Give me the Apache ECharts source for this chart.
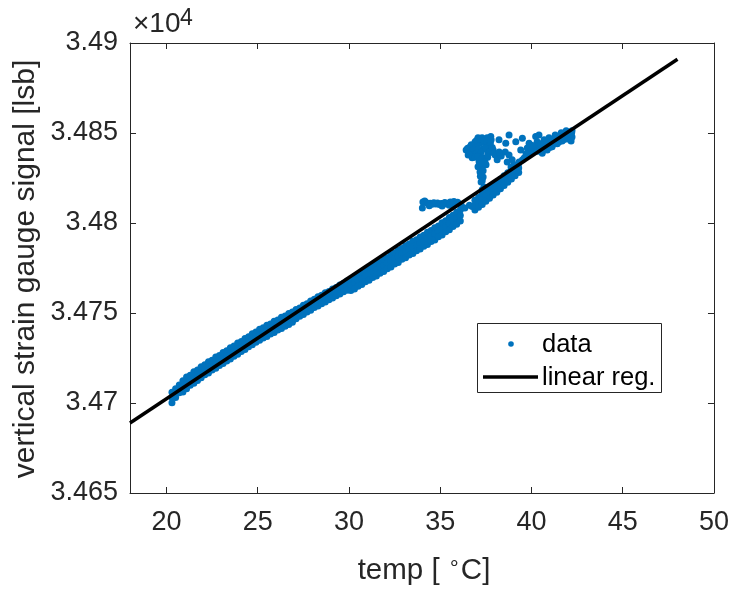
<!DOCTYPE html>
<html><head><meta charset="utf-8">
<script src="https://cdn.jsdelivr.net/npm/echarts@6/dist/echarts.min.js"></script>
<style>html,body{margin:0;padding:0;background:#fff}#c{width:732px;height:589px}</style>
</head><body><div id="c"></div>
<script>
// ---- data (temp in degC, signal in lsb) ----
const xTicks = [20, 25, 30, 35, 40, 45, 50];
const yTicks = [34650, 34700, 34750, 34800, 34850, 34900];

const bandTemp = [20.3,20.5,20.7,20.9,21.1,21.3,21.5,21.7,21.9,22.1,
  22.3,22.5,22.7,22.9,23.1,23.3,23.5,23.7,23.9,24.1,
  24.3,24.5,24.7,24.9,25.1,25.3,25.5,25.7,25.9,26.1,
  26.3,26.5,26.7,26.9,27.1,27.3,27.5,27.7,27.9,28.1,
  28.3,28.5,28.7,28.9,29.1,29.3,29.5,29.7,29.9,30.1,
  30.3,30.5,30.7,30.9,31.1,31.3,31.5,31.7,31.9,32.1,
  32.3,32.5,32.7,32.9,33.1,33.3,33.5,33.7,33.9,34.1,
  34.3,34.5,34.7,34.9,35.1,35.3,35.5,35.7,35.9,36.1,
  36.9,37.1,37.3,37.5,37.7,37.9,38.1,38.3,38.5,38.7,38.9,39.1,39.3];
const bandUpper = [34706.0,34707.9,34710.0,34712.3,34714.4,34715.4,34717.3,34718.4,34720.2,34721.2,
  34722.9,34723.8,34725.5,34726.4,34728.1,34729.0,34730.7,34731.6,34733.3,34734.2,
  34735.9,34736.8,34738.5,34739.4,34741.0,34741.8,34743.2,34743.9,34745.4,34746.1,
  34747.6,34748.3,34749.7,34750.5,34751.9,34752.8,34754.3,34755.2,34756.7,34757.6,
  34759.0,34759.8,34761.2,34762.0,34763.4,34764.2,34765.6,34766.4,34767.8,34768.6,
  34770.1,34771.0,34772.5,34773.4,34774.9,34775.8,34777.3,34778.2,34779.7,34780.7,
  34782.3,34783.3,34784.9,34785.9,34787.4,34788.3,34789.8,34790.7,34792.2,34793.2,
  34794.8,34795.8,34797.4,34798.4,34800.1,34801.3,34803.1,34804.3,34806.0,34807.2,
  34812.6,34814.1,34815.9,34817.5,34819.3,34820.9,34822.7,34824.3,34826.2,34827.9,34829.8,34831.4,34833.0];
const bandMiddle = [34703.0,34705.5,34707.9,34709.2,34711.2,34712.6,34714.2,34715.5,34717.1,34718.5,
  34719.8,34721.1,34722.4,34723.6,34725.0,34726.2,34727.6,34728.8,34730.2,34731.4,
  34732.8,34734.0,34735.4,34736.6,34737.9,34739.0,34740.1,34741.1,34742.3,34743.3,
  34744.5,34745.5,34746.7,34747.7,34749.4,34750.5,34751.7,34752.9,34754.1,34755.3,
  34756.5,34757.5,34758.7,34759.7,34760.9,34761.9,34763.1,34764.1,34765.3,34765.6,
  34766.8,34768.0,34769.2,34770.4,34771.6,34772.8,34774.0,34775.2,34776.4,34777.7,
  34778.9,34780.3,34781.5,34782.9,34784.1,34785.3,34786.5,34787.7,34788.9,34790.2,
  34791.4,34792.8,34794.0,34795.4,34796.7,34798.2,34799.7,34801.2,34802.7,34804.2,
  34809.9,34811.4,34813.1,34814.8,34816.5,34818.2,34819.9,34821.7,34823.5,34825.3,34827.1,34828.8,34830.5];
const bandLower = [34700.1,34703.0,34705.7,34706.1,34707.9,34709.8,34711.0,34712.5,34714.0,34715.7,
  34716.6,34718.3,34719.3,34720.8,34721.9,34723.4,34724.5,34726.0,34727.1,34728.6,
  34729.7,34731.2,34732.3,34733.8,34734.8,34736.1,34737.0,34738.3,34739.2,34740.5,
  34741.4,34742.7,34743.6,34744.9,34746.8,34748.2,34749.1,34750.6,34751.5,34753.0,
  34753.9,34755.2,34756.1,34757.4,34758.3,34759.6,34760.5,34761.8,34762.7,34762.5,
  34763.4,34764.9,34765.8,34767.3,34768.2,34769.7,34770.6,34772.1,34773.0,34774.6,
  34775.5,34777.2,34778.1,34779.8,34780.7,34782.2,34783.1,34784.6,34785.5,34787.1,
  34788.0,34789.7,34790.6,34792.3,34793.3,34795.1,34796.3,34798.1,34799.3,34801.1,
  34807.2,34808.7,34810.3,34812.1,34813.7,34815.5,34817.1,34819.0,34820.8,34822.6,34824.4,34826.2,34828.0];

const stepTemp = [36.35,36.6,36.75,
  34.02,34.05,34.15,34.25,34.35,34.45,34.55,34.65,34.75,34.85,34.95,35.05,35.15,35.25,35.35,35.45,35.55,35.65,35.75,35.85,35.95,36.05,36.15,
  34.4,35.1,35.5];
const stepSignal = [34808.4,34809.8,34809.2,
  34808.3,34811.6,34812.2,34811.3,34810.9,34811.0,34810.4,34811.2,34810.6,34811.1,34810.3,34810.9,34810.8,34811.4,34810.5,34811.0,34811.6,34810.7,34811.9,34810.9,34811.5,34810.6,34809.8,
  34809.6,34809.5,34809.8];

const clusterTemp = [36.42,36.53,36.64,36.80,36.91,37.02,37.07,37.18,37.29,37.35,37.46,37.57,37.62,37.68,37.79,37.90,38.01,36.75,37.13,37.46,
  36.5,36.6,36.7,36.85,36.95,37.0,37.1,37.2,37.25,37.4,37.5,37.55,37.7,37.75,37.85,37.95,36.9,37.05,37.3,37.6,
  37.13,37.29,37.18,37.35,37.24,37.40,37.51,37.07,37.2,37.3,37.15,37.35,37.45,37.3,
  38.12,38.34,38.56,38.77,38.94,39.05,39.16,38.88,38.67,38.23,
  37.77,38.77,38.22,38.59,39.14,39.50,39.87,39.41,39.77,40.23,40.41,
  40.14,40.42,40.69,40.96,41.24,41.51,41.78,42.06,42.22,40.59,40.86,41.13,41.41,41.68,41.96,42.22,42.17,40.96,40.69,41.30,41.63,41.90,40.31,39.87,39.60,39.32,
  40.2,40.35,40.5,40.8,41.0,41.05,41.2,41.35,41.5,41.6,41.75,41.85,42.0,42.1,42.2,40.05,39.95,39.7,39.5];
const clusterSignal = [34840.6,34837.8,34842.3,34839.5,34845.1,34842.3,34847.3,34844.5,34847.3,34841.2,34844.5,34847.3,34838.9,34842.8,34846.2,34840.6,34837.8,34836.2,34838.4,34836.2,
  34841.5,34839.0,34843.5,34841.0,34838.5,34846.0,34841.0,34846.5,34839.5,34846.0,34841.5,34845.5,34839.5,34844.5,34842.0,34838.8,34836.5,34837.0,34836.0,34836.5,
  34834.0,34831.2,34828.4,34825.6,34822.8,34820.0,34832.3,34831.2,34826.0,34823.5,34833.0,34829.0,34834.0,34818.5,
  34835.1,34837.2,34839.5,34837.8,34835.1,34832.3,34829.5,34831.1,34833.9,34839.5,
  34848.0,34848.9,34846.2,34844.3,34845.2,34847.1,34844.3,34840.6,34841.6,34848.0,34848.9,
  34840.6,34841.7,34843.4,34844.5,34846.2,34847.3,34848.4,34850.1,34851.2,34838.8,34840.6,34842.3,34844.0,34845.6,34846.7,34847.8,34845.6,34847.3,34846.2,34848.9,34850.1,34851.2,34845.1,34837.8,34836.1,34833.9,
  34842.6,34839.9,34844.0,34842.5,34841.9,34845.5,34843.7,34847.0,34845.0,34848.4,34846.3,34849.3,34848.5,34849.2,34850.0,34843.0,34840.0,34838.5,34835.0];

const regTemp = [18, 48];
const regSignal = [34688.9, 34891.0];

// ---- build ----
const FONT = '"Liberation Sans", Arial, Helvetica, sans-serif';
const INK = '#262626';
const pts = [];
bandTemp.forEach((t, i) => {
  pts.push([t, bandUpper[i]]); pts.push([t, bandMiddle[i]]); pts.push([t, bandLower[i]]);
});
stepTemp.forEach((t, i) => pts.push([t, stepSignal[i]]));
clusterTemp.forEach((t, i) => pts.push([t, clusterSignal[i]]));
const regLine = regTemp.map((t, i) => [t, regSignal[i]]);

const axLine = { show: true, onZero: false, lineStyle: { color: INK, width: 1 } };
const fmtY = v => (v / 1e4).toFixed(4).replace(/0+$/, '').replace(/\.$/, '');

const chart = echarts.init(document.getElementById('c'), null, { renderer: 'canvas' });
chart.setOption({
  animation: false,
  backgroundColor: '#fff',
  grid: { left: 130, top: 43, right: 17, bottom: 96, containLabel: false },
  xAxis: [
    { type: 'value', min: 18, max: 50, position: 'bottom', axisLine: axLine,
      axisTick: { show: true, inside: true, length: 6, customValues: xTicks, lineStyle: { color: INK } },
      axisLabel: { customValues: xTicks, color: INK, fontSize: 27, fontFamily: FONT, margin: 16 },
      splitLine: { show: false } },
    { type: 'value', min: 18, max: 50, position: 'top', axisLine: axLine,
      axisTick: { show: true, inside: true, length: 6, customValues: xTicks, lineStyle: { color: INK } },
      axisLabel: { show: false }, splitLine: { show: false } }
  ],
  yAxis: [
    { type: 'value', min: yTicks[0], max: yTicks[yTicks.length - 1], interval: 50, position: 'left', axisLine: axLine,
      axisTick: { show: true, inside: true, length: 6, lineStyle: { color: INK } },
      axisLabel: { formatter: fmtY, color: INK, fontSize: 27, fontFamily: FONT, margin: 12 },
      splitLine: { show: false } },
    { type: 'value', min: yTicks[0], max: yTicks[yTicks.length - 1], interval: 50, position: 'right', axisLine: axLine,
      axisTick: { show: true, inside: true, length: 6, lineStyle: { color: INK } },
      axisLabel: { show: false }, splitLine: { show: false } }
  ],
  series: [
    { name: 'data', type: 'scatter', xAxisIndex: 0, yAxisIndex: 0, data: pts, symbolSize: 7,
      itemStyle: { color: '#0072BD', opacity: 1 }, emphasis: { disabled: true } },
    { name: 'linear reg.', type: 'line', xAxisIndex: 0, yAxisIndex: 0, data: regLine, symbol: 'none',
      lineStyle: { color: '#000', width: 3.5 }, z: 5 }
  ],
  graphic: [
    { type: 'text', x: 133, y: 38, style: { text: '×10', font: '28px ' + FONT, fill: INK, textVerticalAlign: 'bottom' } },
    { type: 'text', x: 180, y: 30, style: { text: '4', font: '23px ' + FONT, fill: INK, textVerticalAlign: 'bottom' } },
    { type: 'text', x: 424, y: 571, style: { text: '{a|temp [ }{s|∘}{a|C]}', fill: INK, textAlign: 'center', textVerticalAlign: 'middle',
        rich: { a: { font: '29.5px ' + FONT, fill: INK }, s: { font: '20px ' + FONT, fill: INK, padding: [0, 0, 14, 0] } } } },
    { type: 'text', x: 26, y: 269, rotation: Math.PI / 2,
      style: { text: 'vertical strain gauge signal [lsb]', font: '30px ' + FONT, fill: INK, textAlign: 'center', textVerticalAlign: 'middle' } },
    { type: 'rect', shape: { x: 477.5, y: 323.5, width: 184, height: 69 }, style: { fill: '#fff', stroke: INK, lineWidth: 1 }, z: 10 },
    { type: 'circle', shape: { cx: 511, cy: 344, r: 2.8 }, style: { fill: '#0072BD' }, z: 11 },
    { type: 'text', x: 542, y: 345, style: { text: 'data', font: '25.5px ' + FONT, fill: '#000', textVerticalAlign: 'middle' }, z: 11 },
    { type: 'line', shape: { x1: 483, y1: 377, x2: 538, y2: 377 }, style: { stroke: '#000', lineWidth: 3.5 }, z: 11 },
    { type: 'text', x: 542, y: 378, style: { text: 'linear reg.', font: '25.5px ' + FONT, fill: '#000', textVerticalAlign: 'middle' }, z: 11 }
  ]
});
</script></body></html>
